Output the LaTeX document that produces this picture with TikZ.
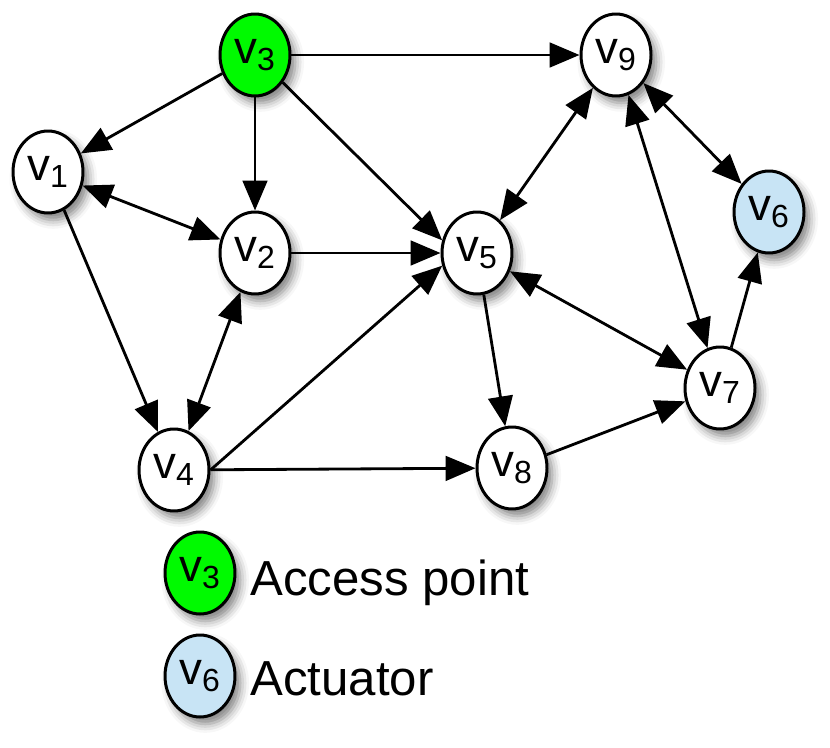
\documentclass[tikz,border=0pt]{standalone}
\usepackage{fontspec}
\setmainfont{Liberation Sans}
\usepackage{xcolor}
\usepackage{tikz}
\usetikzlibrary{shapes.geometric,arrows.meta,shadows.blur}
\definecolor{apgreen}{RGB}{0,250,0}
\definecolor{actblue}{RGB}{200,228,245}
\newcommand{\vx}[1]{v\textsubscript{#1}}

\begin{document}
\begin{tikzpicture}[
        x=0.02cm, y=-0.02cm,
        font=\fontsize{26}{30}\selectfont,
        station/.style={ellipse, draw, line width=1.7pt, fill=white, inner sep=0pt,
                        minimum width=1.4cm, minimum height=1.64cm,
                        blur shadow={shadow xshift=3pt, shadow yshift=-4pt,
                                     shadow blur radius=5pt, shadow opacity=50}},
        apnode/.style={station, fill=apgreen},
        actnode/.style={station, fill=actblue},
        link/.style={-{Triangle[length=17pt,width=14pt]}, line width=1.6pt},
        duplex/.style={{Triangle[length=17pt,width=14pt]}-{Triangle[length=17pt,width=14pt]},
                       line width=1.6pt},
        legend/.style={anchor=base west, inner sep=0pt, font=\fontsize{28}{32}\selectfont}
    ]
    \useasboundingbox (0,0) rectangle (830,747);

    % Stations
    \node[apnode]  (v3) at (255,55)  {\vx{3}};
    \node[station] (v9) at (616,55)  {\vx{9}};
    \node[station] (v1) at (48,172)  {\vx{1}};
    \node[actnode] (v6) at (769,212) {\vx{6}};
    \node[station] (v2) at (255,253) {\vx{2}};
    \node[station] (v5) at (477,253) {\vx{5}};
    \node[station] (v7) at (720,388) {\vx{7}};
    \node[station] (v4) at (174,470) {\vx{4}};
    \node[station] (v8) at (512,468) {\vx{8}};

    % ---- links from the access point ----
    \draw[link] (v3) -- (v1);
    \draw[link] (v3) -- (v2);
    \draw[link] (v3) -- (v5.160);
    \draw[link] (v3) -- (v9);

    % ---- left part ----
    \draw[duplex] (v1) -- (v2);
    \draw[link]   (v1) -- (v4);
    \draw[duplex] (v2) -- (v4);
    \draw[link]   (v2) -- (v5);
    \draw[link]   (v4.east) -- (v5.200);
    \draw[link]   (v4) -- (v8);

    % ---- right part ----
    \draw[link]   (v5) -- (v8);
    \draw[duplex] (v5) -- (v9);
    \draw[duplex] (v5) -- (v7);
    \draw[link]   (v8) -- (v7);
    \draw[duplex] (v9) -- (v6);
    \draw[duplex] (v9) -- (v7);
    \draw[link]   (v7) -- (v6);

    % Legend
    \node[apnode]  (keyap)  at (200,573) {\vx{3}};
    \node[legend]  (keyapt) at (250,595) {Access point};
    \node[actnode] (keyact) at (200,676) {\vx{6}};
    \node[legend]  (keyactt) at (250,695) {Actuator};
\end{tikzpicture}
\end{document}
